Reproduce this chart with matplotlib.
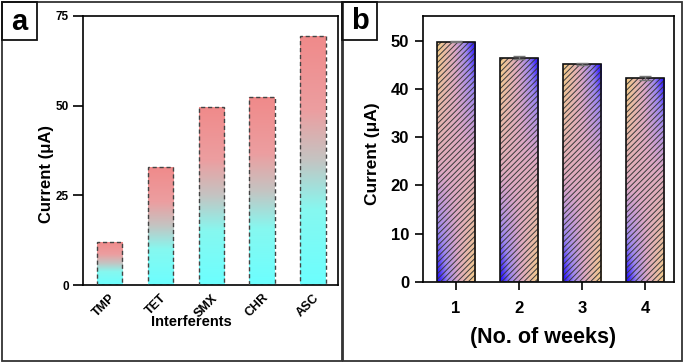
import numpy as np
import matplotlib
matplotlib.use("Agg")
import matplotlib.pyplot as plt
from matplotlib.patches import Rectangle
from matplotlib.colors import LinearSegmentedColormap

plt.rcParams['font.family'] = ['Liberation Sans', 'DejaVu Sans']
plt.rcParams['hatch.linewidth'] = 0.7

# ---- data ----
interferents = ["TMP", "TET", "SMX", "CHR", "ASC"]
current_a = [12.0, 33.0, 49.7, 52.3, 69.5]

weeks = [1, 2, 3, 4]
current_b = [49.8, 46.5, 45.1, 42.3]
error_b = [0.1, 0.4, 0.25, 0.4]

W, H = 685, 363
fig = plt.figure(figsize=(6.85, 3.63), dpi=100)

def fx(px):
    return px / W

def fy(py):
    return 1 - py / H

def frect(x0, y0, x1, y1, **kw):
    r = Rectangle((fx(x0), fy(y1)), fx(x1) - fx(x0), fy(y0) - fy(y1),
                  transform=fig.transFigure, fill=False, **kw)
    fig.patches.append(r)
    return r

# panel borders
frect(2, 2, 342, 361, edgecolor="#333333", linewidth=1.3)
frect(343, 2, 682, 361, edgecolor="#333333", linewidth=1.3)
frect(2, 2, 37, 40, edgecolor="#111111", linewidth=1.3)
frect(342, 2, 377, 40, edgecolor="#111111", linewidth=1.3)
fig.text(fx(19.5), fy(22), "a", fontsize=21, fontweight="bold", ha="center", va="center")
fig.text(fx(359.5), fy(21), "b", fontsize=21, fontweight="bold", ha="center", va="center")

# ---------- panel a ----------
axa = fig.add_axes([fx(83), fy(285), fx(338) - fx(83), fy(16) - fy(285)])
cmap_a = LinearSegmentedColormap.from_list(
    "ca", [(0.0, "#6CFFFF"), (0.3, "#86F8F0"), (0.5, "#C4C4C2"),
           (0.7, "#EC9EA0"), (1.0, "#F08A8A")])
grad_v = np.linspace(0, 1, 256).reshape(-1, 1)
bw_a = 0.5
xa = np.arange(len(interferents))
bars_a = axa.bar(xa, current_a, width=bw_a, facecolor="none",
                 edgecolor="#444444", linewidth=1.0, linestyle=(0, (3, 2)), zorder=3)
for b, v in zip(bars_a, current_a):
    x0 = b.get_x()
    im = axa.imshow(grad_v, cmap=cmap_a, origin="lower", aspect="auto",
                    extent=[x0, x0 + bw_a, 0, v], zorder=2, interpolation="bilinear")
    im.set_clip_path(b)
axa.set_xlim(-0.52, 4.49)
axa.set_ylim(0, 75)
axa.set_yticks([0, 25, 50, 75])
axa.set_xticks(xa)
axa.set_xticklabels(interferents, rotation=45, ha="right", rotation_mode="anchor",
                    fontsize=9, fontweight="bold")
for t in axa.get_yticklabels():
    t.set_fontsize(8.5)
    t.set_fontweight("bold")
axa.tick_params(axis="y", length=7, width=1.2, pad=3)
axa.tick_params(axis="x", length=0, pad=5)
for s in axa.spines.values():
    s.set_linewidth(1.2)
fig.text(fx(191), fy(322), "Interferents", fontsize=10.5, fontweight="bold",
         ha="center", va="center")
fig.text(fx(46), fy(174), "Current (μA)", fontsize=12, fontweight="bold",
         ha="center", va="center", rotation=90)

# ---------- panel b ----------
axb = fig.add_axes([fx(423), fy(282), fx(674) - fx(423), fy(16) - fy(282)])
cmap_b = LinearSegmentedColormap.from_list(
    "cb", [(0.0, "#F2CA8C"), (0.45, "#DDA8C4"), (0.75, "#9C86F0"), (1.0, "#2A14FF")])
gx, gy = np.meshgrid(np.linspace(0, 1, 64), np.linspace(0, 1, 256))
grad_2d = np.clip(0.5 + (gx - 0.5) * (2 * gy - 1) * 1.1 - 0.1 * (1 - np.abs(2 * gy - 1)), 0, 1)
bw_b = 0.61
bars_b = axb.bar(weeks, current_b, width=bw_b, facecolor="none",
                 edgecolor="#111111", linewidth=1.2, zorder=4)
for b, v in zip(bars_b, current_b):
    x0 = b.get_x()
    im = axb.imshow(grad_2d, cmap=cmap_b, origin="lower", aspect="auto", vmin=0, vmax=1,
                    extent=[x0, x0 + bw_b, 0, v], zorder=2, interpolation="bilinear")
    im.set_clip_path(b)
axb.bar(weeks, current_b, width=bw_b, fill=False, hatch="//////",
        edgecolor="#3a3a3a", linewidth=0, zorder=3)
axb.errorbar(weeks, current_b, yerr=error_b, fmt="none", ecolor="#777777",
             elinewidth=1.0, capsize=4.5, capthick=1.0, zorder=5)
axb.set_xlim(0.476, 4.46)
axb.set_ylim(0, 55.1)
axb.set_yticks([0, 10, 20, 30, 40, 50])
axb.set_xticks(weeks)
for t in axb.get_xticklabels() + axb.get_yticklabels():
    t.set_fontsize(12)
    t.set_fontweight("bold")
axb.tick_params(axis="y", length=6, width=1.2, pad=4)
axb.tick_params(axis="x", length=6, width=1.2, pad=8)
for s in axb.spines.values():
    s.set_linewidth(1.2)
fig.text(fx(543), fy(337), "(No. of weeks)", fontsize=15.5, fontweight="bold",
         ha="center", va="center")
fig.text(fx(372), fy(154), "Current (μA)", fontsize=12.5, fontweight="bold",
         ha="center", va="center", rotation=90)

fig.savefig("out.png", dpi=100)
